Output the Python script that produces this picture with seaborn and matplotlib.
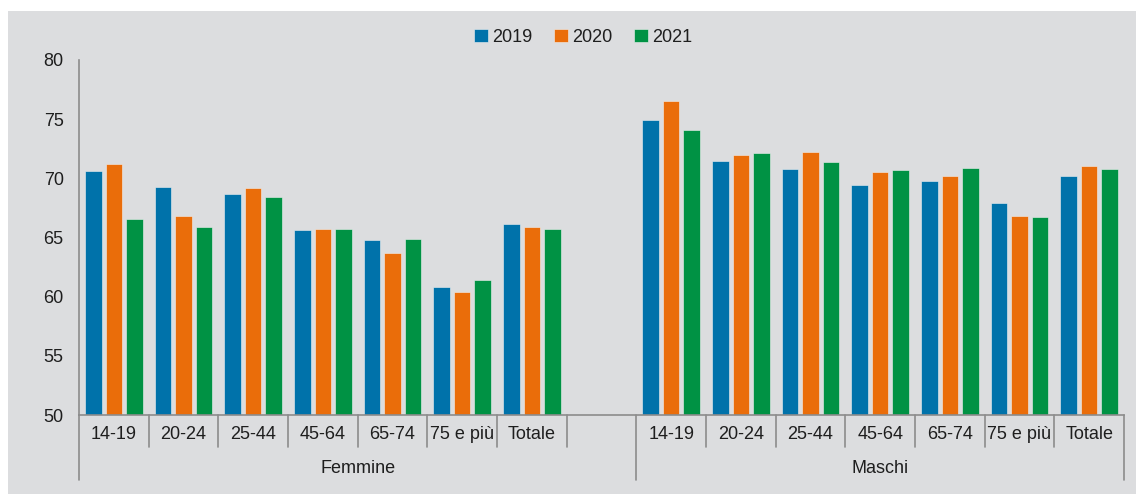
import numpy as np
import pandas as pd
import matplotlib
matplotlib.use("Agg")
import matplotlib.pyplot as plt
import seaborn as sns
from matplotlib.patches import Rectangle

ages = ["14-19", "20-24", "25-44", "45-64", "65-74", "75 e più", "Totale"]
sexes = ["Femmine", "Maschi"]
years = ["2019", "2020", "2021"]

femmine_2019 = [70.6, 69.3, 68.7, 65.6, 64.8, 60.8, 66.1]
femmine_2020 = [71.2, 66.8, 69.2, 65.7, 63.7, 60.4, 65.9]
femmine_2021 = [66.6, 65.9, 68.4, 65.7, 64.9, 61.4, 65.7]

maschi_2019 = [74.9, 71.5, 70.8, 69.4, 69.8, 67.9, 70.2]
maschi_2020 = [76.5, 72.0, 72.2, 70.5, 70.2, 66.8, 71.0]
maschi_2021 = [74.1, 72.1, 71.4, 70.7, 70.9, 66.7, 70.8]

colors = ["#0072aa", "#ea6d0a", "#009244"]
bg = "#dcdddf"
txt = "#1e1e1e"
line_c = "#8c8c8c"

series = {
    "Femmine": [femmine_2019, femmine_2020, femmine_2021],
    "Maschi": [maschi_2019, maschi_2020, maschi_2021],
}
rows = []
for sex in sexes:
    for y, vals in zip(years, series[sex]):
        for age, v in zip(ages, vals):
            rows.append({"key": sex + "|" + age, "year": y, "value": v})
df = pd.DataFrame(rows)

# empty slot between the two groups
order = ["Femmine|" + a for a in ages] + ["gap"] + ["Maschi|" + a for a in ages]

sns.set_style("white")
plt.rcParams["font.family"] = ["Liberation Sans", "DejaVu Sans"]
fs = 13

fig = plt.figure(figsize=(11.42, 4.94), dpi=100)
fig.patch.set_facecolor("white")
fig.add_artist(Rectangle((8 / 1142, 0), (1136 - 8) / 1142, (494 - 11) / 494,
                         transform=fig.transFigure, facecolor=bg, edgecolor="none", zorder=0))

ax = fig.add_axes([79 / 1142, 1 - 415 / 494, (1124 - 79) / 1142, (415 - 60) / 494])
ax.set_facecolor("none")

sns.barplot(data=df, x="key", y="value", hue="year", order=order, hue_order=years,
            palette=colors, saturation=1, width=0.88, gap=0.19,
            edgecolor="#f0f0f0", linewidth=0.4, ax=ax)

ax.set_ylim(50, 80)
ax.set_xlim(-0.5, len(order) - 0.5)
ax.set_yticks(range(50, 81, 5))
ax.set_xticks(range(len(order)))
ax.set_xticklabels(ages + [""] + ages)
ax.set_xlabel("")
ax.set_ylabel("")

for s in ["top", "right"]:
    ax.spines[s].set_visible(False)
for s in ["left", "bottom"]:
    ax.spines[s].set_color(line_c)
    ax.spines[s].set_linewidth(1.2)

ax.tick_params(axis="y", direction="out", length=4, width=1.2, color=line_c,
               labelsize=fs, labelcolor=txt, pad=7)
ax.tick_params(axis="x", length=0, labelsize=fs, labelcolor=txt, pad=8)

# category separators below the axis
tr = ax.get_xaxis_transform()
short = 32 / 355
long = 65 / 355
for b in np.arange(-0.5, len(order), 1.0):
    ln = long if b in (-0.5, 7.5, len(order) - 0.5) else short
    ax.plot([b, b], [0, -ln], transform=tr, color=line_c, lw=1.2, clip_on=False)

ax.text(3.5, -53 / 355, "Femmine", transform=tr, ha="center", va="center",
        fontsize=fs, color=txt)
ax.text(11.0, -53 / 355, "Maschi", transform=tr, ha="center", va="center",
        fontsize=fs, color=txt)

handles, labels = ax.get_legend_handles_labels()
ax.get_legend().remove()
fig.legend(handles, labels, loc="center", bbox_to_anchor=(0.511, 1 - 37 / 494), ncol=3,
           frameon=False, handlelength=0.75, handleheight=0.75, handletextpad=0.25,
           columnspacing=1.2, fontsize=fs, labelcolor=txt)

fig.savefig("out.png", dpi=100)
